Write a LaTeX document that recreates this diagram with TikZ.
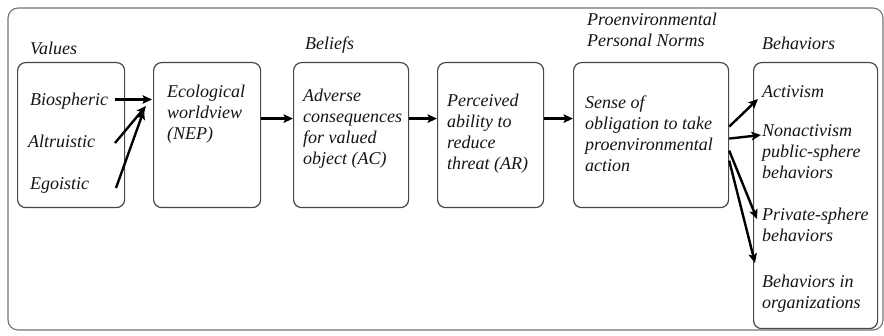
\documentclass[tikz,border=0pt]{standalone}
\usepackage{fontspec}
\setmainfont{Liberation Serif}
\usetikzlibrary{arrows.meta}
\begin{document}
\begin{tikzpicture}[x=1pt,y=-1pt,
  txt/.style={inner sep=0pt, anchor=base west, text=black!92, font=\fontsize{18}{21}\selectfont\itshape},
  mtxt/.style={inner sep=0pt, anchor=north west, align=left, text=black!92, font=\fontsize{18}{21}\selectfont\itshape, execute at begin node=\strut},
  panel/.style={draw=black!72, line width=1.2pt, rounded corners=8pt, anchor=north west, inner sep=0pt},
  frame/.style={draw=black!55, line width=1.1pt, rounded corners=10pt},
  arr/.style={-{Stealth[length=9.5pt,width=8.5pt,inset=2pt]}, line width=2.4pt, draw=black}]
\useasboundingbox (0,0) rectangle (884,336);
\draw[frame] (8,8) rectangle (883,330);
% panels
\node[panel, minimum width=107pt, minimum height=145pt] (vbox) at (17,62) {};
\node[panel, minimum width=107pt, minimum height=145pt] (nep) at (153,62) {};
\node[panel, minimum width=115pt, minimum height=145pt] (ac) at (293,62) {};
\node[panel, minimum width=106pt, minimum height=145pt] (ar) at (437,62) {};
\node[panel, minimum width=155pt, minimum height=145pt] (norm) at (573,62) {};
\node[panel, minimum width=124pt, minimum height=266pt] (beh) at (753,62) {};
% headings
\node[txt] (hval) at (30,55) {Values};
\node[txt] (hbel) at (305,50) {Beliefs};
\node[mtxt] (hnorm) at (587,13.3) {Proenvironmental\\Personal Norms};
\node[txt] (hbeh) at (762,50) {Behaviors};
% values
\node[txt] (bio) at (30,106) {Biospheric};
\node[txt] (alt) at (28,148) {Altruistic};
\node[txt] (ego) at (30,190) {Egoistic};
% box texts
\node[mtxt] (tnep) at (167,85.3) {Ecological\\worldview\\(NEP)};
\node[mtxt] (tac) at (303,89.3) {Adverse\\consequences\\for valued\\object (AC)};
\node[mtxt] (tar) at (447,94.3) {Perceived\\ability to\\reduce\\threat (AR)};
\node[mtxt] (tnorm) at (585,95.3) {Sense of\\obligation to take\\proenvironmental\\action};
% behaviors
\node[txt] (act) at (762,98) {Activism};
\node[mtxt] (nonact) at (762,124.3) {Nonactivism\\public-sphere\\behaviors};
\node[mtxt] (priv) at (762,208.3) {Private-sphere\\behaviors};
\node[mtxt] (org) at (762,275.3) {Behaviors in\\organizations};
% value arrows
\coordinate (bs) at (115,99.5);
\coordinate (bt) at (152,99.5);
\coordinate (as) at (115,143);
\coordinate (at) at (146,106);
\coordinate (es) at (116,188);
\coordinate (et) at (144,110);
\draw[arr] (bs) -- (bt);
\draw[arr] (as) -- (at);
\draw[arr] (es) -- (et);
% chain arrows
\draw[arr] ([yshift=16.5pt]nep.east) -- ([yshift=16.5pt]ac.west);
\draw[arr] ([yshift=16.5pt]ac.east) -- ([yshift=16.5pt]ar.west);
\draw[arr] ([yshift=16.5pt]ar.east) -- ([yshift=16.5pt]norm.west);
% behavior arrows
\coordinate (t1) at (758,99);
\coordinate (t2) at (761,135);
\coordinate (t3) at (757,219);
\coordinate (t4) at (755,263);
\draw[arr] ([yshift=8.5pt]norm.east) -- (t1);
\draw[arr] ([yshift=-3.5pt]norm.east) -- (t2);
\draw[arr] ([yshift=-15.5pt]norm.east) -- (t3);
\draw[arr] ([yshift=-25.5pt]norm.east) -- (t4);
\end{tikzpicture}
\end{document}
